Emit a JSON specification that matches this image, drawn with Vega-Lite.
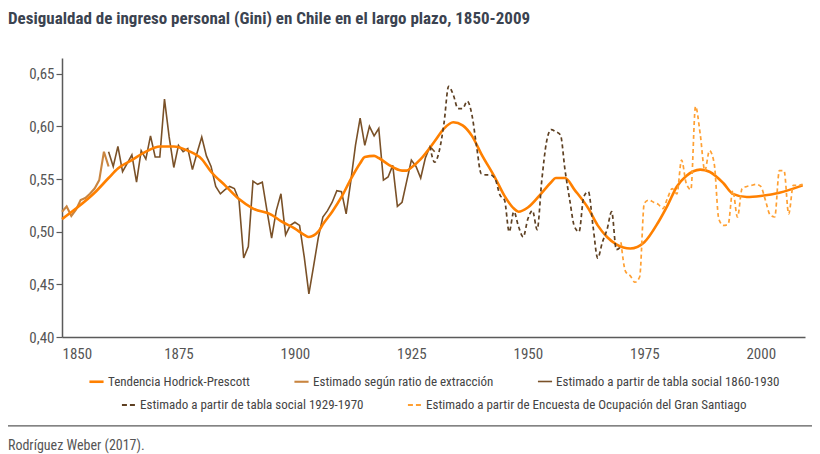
{
  "$schema": "https://vega.github.io/schema/vega-lite/v6.json",
  "width": 743,
  "height": 279,
  "autosize": "none",
  "padding": {"left": 62, "top": 58, "right": 15, "bottom": 117},
  "title": {
    "text": "Desigualdad de ingreso personal (Gini) en Chile en el largo plazo, 1850-2009",
    "anchor": "start",
    "frame": "group",
    "dx": -54,
    "offset": 30,
    "fontSize": 17,
    "fontWeight": "bold",
    "color": "#3b4350"
  },
  "datasets": {
    "hp": [
      {"anio": 1850, "gini": 0.512, "serie": "Tendencia Hodrick-Prescott"},
      {"anio": 1853, "gini": 0.522, "serie": "Tendencia Hodrick-Prescott"},
      {"anio": 1857, "gini": 0.537, "serie": "Tendencia Hodrick-Prescott"},
      {"anio": 1860, "gini": 0.551, "serie": "Tendencia Hodrick-Prescott"},
      {"anio": 1862, "gini": 0.560, "serie": "Tendencia Hodrick-Prescott"},
      {"anio": 1865, "gini": 0.568, "serie": "Tendencia Hodrick-Prescott"},
      {"anio": 1868, "gini": 0.576, "serie": "Tendencia Hodrick-Prescott"},
      {"anio": 1871, "gini": 0.581, "serie": "Tendencia Hodrick-Prescott"},
      {"anio": 1874, "gini": 0.581, "serie": "Tendencia Hodrick-Prescott"},
      {"anio": 1877, "gini": 0.577, "serie": "Tendencia Hodrick-Prescott"},
      {"anio": 1880, "gini": 0.569, "serie": "Tendencia Hodrick-Prescott"},
      {"anio": 1882, "gini": 0.557, "serie": "Tendencia Hodrick-Prescott"},
      {"anio": 1885, "gini": 0.544, "serie": "Tendencia Hodrick-Prescott"},
      {"anio": 1888, "gini": 0.531, "serie": "Tendencia Hodrick-Prescott"},
      {"anio": 1891, "gini": 0.522, "serie": "Tendencia Hodrick-Prescott"},
      {"anio": 1895, "gini": 0.516, "serie": "Tendencia Hodrick-Prescott"},
      {"anio": 1897, "gini": 0.510, "serie": "Tendencia Hodrick-Prescott"},
      {"anio": 1900, "gini": 0.503, "serie": "Tendencia Hodrick-Prescott"},
      {"anio": 1902, "gini": 0.497, "serie": "Tendencia Hodrick-Prescott"},
      {"anio": 1903, "gini": 0.495, "serie": "Tendencia Hodrick-Prescott"},
      {"anio": 1905, "gini": 0.500, "serie": "Tendencia Hodrick-Prescott"},
      {"anio": 1906, "gini": 0.507, "serie": "Tendencia Hodrick-Prescott"},
      {"anio": 1908, "gini": 0.519, "serie": "Tendencia Hodrick-Prescott"},
      {"anio": 1910, "gini": 0.533, "serie": "Tendencia Hodrick-Prescott"},
      {"anio": 1912, "gini": 0.550, "serie": "Tendencia Hodrick-Prescott"},
      {"anio": 1914, "gini": 0.565, "serie": "Tendencia Hodrick-Prescott"},
      {"anio": 1915, "gini": 0.571, "serie": "Tendencia Hodrick-Prescott"},
      {"anio": 1917, "gini": 0.572, "serie": "Tendencia Hodrick-Prescott"},
      {"anio": 1918, "gini": 0.570, "serie": "Tendencia Hodrick-Prescott"},
      {"anio": 1920, "gini": 0.564, "serie": "Tendencia Hodrick-Prescott"},
      {"anio": 1923, "gini": 0.558, "serie": "Tendencia Hodrick-Prescott"},
      {"anio": 1924, "gini": 0.558, "serie": "Tendencia Hodrick-Prescott"},
      {"anio": 1925, "gini": 0.561, "serie": "Tendencia Hodrick-Prescott"},
      {"anio": 1927, "gini": 0.569, "serie": "Tendencia Hodrick-Prescott"},
      {"anio": 1930, "gini": 0.586, "serie": "Tendencia Hodrick-Prescott"},
      {"anio": 1932, "gini": 0.598, "serie": "Tendencia Hodrick-Prescott"},
      {"anio": 1934, "gini": 0.604, "serie": "Tendencia Hodrick-Prescott"},
      {"anio": 1936, "gini": 0.601, "serie": "Tendencia Hodrick-Prescott"},
      {"anio": 1938, "gini": 0.591, "serie": "Tendencia Hodrick-Prescott"},
      {"anio": 1940, "gini": 0.574, "serie": "Tendencia Hodrick-Prescott"},
      {"anio": 1943, "gini": 0.551, "serie": "Tendencia Hodrick-Prescott"},
      {"anio": 1945, "gini": 0.534, "serie": "Tendencia Hodrick-Prescott"},
      {"anio": 1947, "gini": 0.522, "serie": "Tendencia Hodrick-Prescott"},
      {"anio": 1948, "gini": 0.519, "serie": "Tendencia Hodrick-Prescott"},
      {"anio": 1950, "gini": 0.523, "serie": "Tendencia Hodrick-Prescott"},
      {"anio": 1953, "gini": 0.537, "serie": "Tendencia Hodrick-Prescott"},
      {"anio": 1955, "gini": 0.547, "serie": "Tendencia Hodrick-Prescott"},
      {"anio": 1956, "gini": 0.551, "serie": "Tendencia Hodrick-Prescott"},
      {"anio": 1958, "gini": 0.551, "serie": "Tendencia Hodrick-Prescott"},
      {"anio": 1960, "gini": 0.540, "serie": "Tendencia Hodrick-Prescott"},
      {"anio": 1963, "gini": 0.522, "serie": "Tendencia Hodrick-Prescott"},
      {"anio": 1965, "gini": 0.506, "serie": "Tendencia Hodrick-Prescott"},
      {"anio": 1967, "gini": 0.495, "serie": "Tendencia Hodrick-Prescott"},
      {"anio": 1969, "gini": 0.488, "serie": "Tendencia Hodrick-Prescott"},
      {"anio": 1972, "gini": 0.484, "serie": "Tendencia Hodrick-Prescott"},
      {"anio": 1975, "gini": 0.490, "serie": "Tendencia Hodrick-Prescott"},
      {"anio": 1978, "gini": 0.509, "serie": "Tendencia Hodrick-Prescott"},
      {"anio": 1980, "gini": 0.525, "serie": "Tendencia Hodrick-Prescott"},
      {"anio": 1982, "gini": 0.543, "serie": "Tendencia Hodrick-Prescott"},
      {"anio": 1984, "gini": 0.553, "serie": "Tendencia Hodrick-Prescott"},
      {"anio": 1987, "gini": 0.559, "serie": "Tendencia Hodrick-Prescott"},
      {"anio": 1989, "gini": 0.557, "serie": "Tendencia Hodrick-Prescott"},
      {"anio": 1992, "gini": 0.546, "serie": "Tendencia Hodrick-Prescott"},
      {"anio": 1994, "gini": 0.536, "serie": "Tendencia Hodrick-Prescott"},
      {"anio": 1997, "gini": 0.533, "serie": "Tendencia Hodrick-Prescott"},
      {"anio": 2000, "gini": 0.534, "serie": "Tendencia Hodrick-Prescott"},
      {"anio": 2004, "gini": 0.537, "serie": "Tendencia Hodrick-Prescott"},
      {"anio": 2009, "gini": 0.544, "serie": "Tendencia Hodrick-Prescott"}
    ],
    "brutas": [
      {"anio": 1850, "gini": 0.519, "serie": "Estimado según ratio de extracción"},
      {"anio": 1851, "gini": 0.524, "serie": "Estimado según ratio de extracción"},
      {"anio": 1852, "gini": 0.515, "serie": "Estimado según ratio de extracción"},
      {"anio": 1853, "gini": 0.521, "serie": "Estimado según ratio de extracción"},
      {"anio": 1854, "gini": 0.530, "serie": "Estimado según ratio de extracción"},
      {"anio": 1855, "gini": 0.532, "serie": "Estimado según ratio de extracción"},
      {"anio": 1856, "gini": 0.536, "serie": "Estimado según ratio de extracción"},
      {"anio": 1857, "gini": 0.541, "serie": "Estimado según ratio de extracción"},
      {"anio": 1858, "gini": 0.549, "serie": "Estimado según ratio de extracción"},
      {"anio": 1859, "gini": 0.576, "serie": "Estimado según ratio de extracción"},
      {"anio": 1860, "gini": 0.562, "serie": "Estimado según ratio de extracción"},
      {"anio": 1860, "gini": 0.576, "serie": "Estimado a partir de tabla social 1860-1930"},
      {"anio": 1861, "gini": 0.562, "serie": "Estimado a partir de tabla social 1860-1930"},
      {"anio": 1862, "gini": 0.581, "serie": "Estimado a partir de tabla social 1860-1930"},
      {"anio": 1863, "gini": 0.557, "serie": "Estimado a partir de tabla social 1860-1930"},
      {"anio": 1864, "gini": 0.565, "serie": "Estimado a partir de tabla social 1860-1930"},
      {"anio": 1865, "gini": 0.573, "serie": "Estimado a partir de tabla social 1860-1930"},
      {"anio": 1866, "gini": 0.547, "serie": "Estimado a partir de tabla social 1860-1930"},
      {"anio": 1867, "gini": 0.577, "serie": "Estimado a partir de tabla social 1860-1930"},
      {"anio": 1868, "gini": 0.569, "serie": "Estimado a partir de tabla social 1860-1930"},
      {"anio": 1869, "gini": 0.591, "serie": "Estimado a partir de tabla social 1860-1930"},
      {"anio": 1870, "gini": 0.571, "serie": "Estimado a partir de tabla social 1860-1930"},
      {"anio": 1871, "gini": 0.571, "serie": "Estimado a partir de tabla social 1860-1930"},
      {"anio": 1872, "gini": 0.626, "serie": "Estimado a partir de tabla social 1860-1930"},
      {"anio": 1873, "gini": 0.590, "serie": "Estimado a partir de tabla social 1860-1930"},
      {"anio": 1874, "gini": 0.561, "serie": "Estimado a partir de tabla social 1860-1930"},
      {"anio": 1875, "gini": 0.582, "serie": "Estimado a partir de tabla social 1860-1930"},
      {"anio": 1876, "gini": 0.576, "serie": "Estimado a partir de tabla social 1860-1930"},
      {"anio": 1877, "gini": 0.579, "serie": "Estimado a partir de tabla social 1860-1930"},
      {"anio": 1878, "gini": 0.559, "serie": "Estimado a partir de tabla social 1860-1930"},
      {"anio": 1879, "gini": 0.575, "serie": "Estimado a partir de tabla social 1860-1930"},
      {"anio": 1880, "gini": 0.590, "serie": "Estimado a partir de tabla social 1860-1930"},
      {"anio": 1881, "gini": 0.572, "serie": "Estimado a partir de tabla social 1860-1930"},
      {"anio": 1882, "gini": 0.562, "serie": "Estimado a partir de tabla social 1860-1930"},
      {"anio": 1883, "gini": 0.543, "serie": "Estimado a partir de tabla social 1860-1930"},
      {"anio": 1884, "gini": 0.536, "serie": "Estimado a partir de tabla social 1860-1930"},
      {"anio": 1885, "gini": 0.540, "serie": "Estimado a partir de tabla social 1860-1930"},
      {"anio": 1886, "gini": 0.543, "serie": "Estimado a partir de tabla social 1860-1930"},
      {"anio": 1887, "gini": 0.541, "serie": "Estimado a partir de tabla social 1860-1930"},
      {"anio": 1888, "gini": 0.530, "serie": "Estimado a partir de tabla social 1860-1930"},
      {"anio": 1889, "gini": 0.475, "serie": "Estimado a partir de tabla social 1860-1930"},
      {"anio": 1890, "gini": 0.486, "serie": "Estimado a partir de tabla social 1860-1930"},
      {"anio": 1891, "gini": 0.548, "serie": "Estimado a partir de tabla social 1860-1930"},
      {"anio": 1892, "gini": 0.545, "serie": "Estimado a partir de tabla social 1860-1930"},
      {"anio": 1893, "gini": 0.547, "serie": "Estimado a partir de tabla social 1860-1930"},
      {"anio": 1894, "gini": 0.520, "serie": "Estimado a partir de tabla social 1860-1930"},
      {"anio": 1895, "gini": 0.494, "serie": "Estimado a partir de tabla social 1860-1930"},
      {"anio": 1896, "gini": 0.520, "serie": "Estimado a partir de tabla social 1860-1930"},
      {"anio": 1897, "gini": 0.536, "serie": "Estimado a partir de tabla social 1860-1930"},
      {"anio": 1898, "gini": 0.497, "serie": "Estimado a partir de tabla social 1860-1930"},
      {"anio": 1899, "gini": 0.506, "serie": "Estimado a partir de tabla social 1860-1930"},
      {"anio": 1900, "gini": 0.509, "serie": "Estimado a partir de tabla social 1860-1930"},
      {"anio": 1901, "gini": 0.506, "serie": "Estimado a partir de tabla social 1860-1930"},
      {"anio": 1902, "gini": 0.476, "serie": "Estimado a partir de tabla social 1860-1930"},
      {"anio": 1903, "gini": 0.441, "serie": "Estimado a partir de tabla social 1860-1930"},
      {"anio": 1904, "gini": 0.467, "serie": "Estimado a partir de tabla social 1860-1930"},
      {"anio": 1905, "gini": 0.494, "serie": "Estimado a partir de tabla social 1860-1930"},
      {"anio": 1906, "gini": 0.514, "serie": "Estimado a partir de tabla social 1860-1930"},
      {"anio": 1907, "gini": 0.520, "serie": "Estimado a partir de tabla social 1860-1930"},
      {"anio": 1908, "gini": 0.528, "serie": "Estimado a partir de tabla social 1860-1930"},
      {"anio": 1909, "gini": 0.539, "serie": "Estimado a partir de tabla social 1860-1930"},
      {"anio": 1910, "gini": 0.538, "serie": "Estimado a partir de tabla social 1860-1930"},
      {"anio": 1911, "gini": 0.517, "serie": "Estimado a partir de tabla social 1860-1930"},
      {"anio": 1912, "gini": 0.548, "serie": "Estimado a partir de tabla social 1860-1930"},
      {"anio": 1913, "gini": 0.582, "serie": "Estimado a partir de tabla social 1860-1930"},
      {"anio": 1914, "gini": 0.608, "serie": "Estimado a partir de tabla social 1860-1930"},
      {"anio": 1915, "gini": 0.582, "serie": "Estimado a partir de tabla social 1860-1930"},
      {"anio": 1916, "gini": 0.600, "serie": "Estimado a partir de tabla social 1860-1930"},
      {"anio": 1917, "gini": 0.591, "serie": "Estimado a partir de tabla social 1860-1930"},
      {"anio": 1918, "gini": 0.598, "serie": "Estimado a partir de tabla social 1860-1930"},
      {"anio": 1919, "gini": 0.549, "serie": "Estimado a partir de tabla social 1860-1930"},
      {"anio": 1920, "gini": 0.552, "serie": "Estimado a partir de tabla social 1860-1930"},
      {"anio": 1921, "gini": 0.563, "serie": "Estimado a partir de tabla social 1860-1930"},
      {"anio": 1922, "gini": 0.524, "serie": "Estimado a partir de tabla social 1860-1930"},
      {"anio": 1923, "gini": 0.528, "serie": "Estimado a partir de tabla social 1860-1930"},
      {"anio": 1924, "gini": 0.548, "serie": "Estimado a partir de tabla social 1860-1930"},
      {"anio": 1925, "gini": 0.568, "serie": "Estimado a partir de tabla social 1860-1930"},
      {"anio": 1926, "gini": 0.562, "serie": "Estimado a partir de tabla social 1860-1930"},
      {"anio": 1927, "gini": 0.551, "serie": "Estimado a partir de tabla social 1860-1930"},
      {"anio": 1928, "gini": 0.570, "serie": "Estimado a partir de tabla social 1860-1930"},
      {"anio": 1929, "gini": 0.581, "serie": "Estimado a partir de tabla social 1860-1930"},
      {"anio": 1930, "gini": 0.576, "serie": "Estimado a partir de tabla social 1860-1930"}
    ],
    "discontinuas": [
      {"anio": 1929, "gini": 0.581, "serie": "Estimado a partir de tabla social 1929-1970"},
      {"anio": 1930, "gini": 0.566, "serie": "Estimado a partir de tabla social 1929-1970"},
      {"anio": 1931, "gini": 0.577, "serie": "Estimado a partir de tabla social 1929-1970"},
      {"anio": 1932, "gini": 0.603, "serie": "Estimado a partir de tabla social 1929-1970"},
      {"anio": 1933, "gini": 0.638, "serie": "Estimado a partir de tabla social 1929-1970"},
      {"anio": 1934, "gini": 0.630, "serie": "Estimado a partir de tabla social 1929-1970"},
      {"anio": 1935, "gini": 0.617, "serie": "Estimado a partir de tabla social 1929-1970"},
      {"anio": 1936, "gini": 0.617, "serie": "Estimado a partir de tabla social 1929-1970"},
      {"anio": 1937, "gini": 0.624, "serie": "Estimado a partir de tabla social 1929-1970"},
      {"anio": 1938, "gini": 0.611, "serie": "Estimado a partir de tabla social 1929-1970"},
      {"anio": 1939, "gini": 0.581, "serie": "Estimado a partir de tabla social 1929-1970"},
      {"anio": 1940, "gini": 0.555, "serie": "Estimado a partir de tabla social 1929-1970"},
      {"anio": 1941, "gini": 0.554, "serie": "Estimado a partir de tabla social 1929-1970"},
      {"anio": 1942, "gini": 0.554, "serie": "Estimado a partir de tabla social 1929-1970"},
      {"anio": 1943, "gini": 0.550, "serie": "Estimado a partir de tabla social 1929-1970"},
      {"anio": 1944, "gini": 0.535, "serie": "Estimado a partir de tabla social 1929-1970"},
      {"anio": 1945, "gini": 0.530, "serie": "Estimado a partir de tabla social 1929-1970"},
      {"anio": 1946, "gini": 0.500, "serie": "Estimado a partir de tabla social 1929-1970"},
      {"anio": 1947, "gini": 0.519, "serie": "Estimado a partir de tabla social 1929-1970"},
      {"anio": 1948, "gini": 0.505, "serie": "Estimado a partir de tabla social 1929-1970"},
      {"anio": 1949, "gini": 0.495, "serie": "Estimado a partir de tabla social 1929-1970"},
      {"anio": 1950, "gini": 0.512, "serie": "Estimado a partir de tabla social 1929-1970"},
      {"anio": 1951, "gini": 0.520, "serie": "Estimado a partir de tabla social 1929-1970"},
      {"anio": 1952, "gini": 0.502, "serie": "Estimado a partir de tabla social 1929-1970"},
      {"anio": 1953, "gini": 0.549, "serie": "Estimado a partir de tabla social 1929-1970"},
      {"anio": 1954, "gini": 0.585, "serie": "Estimado a partir de tabla social 1929-1970"},
      {"anio": 1955, "gini": 0.597, "serie": "Estimado a partir de tabla social 1929-1970"},
      {"anio": 1956, "gini": 0.595, "serie": "Estimado a partir de tabla social 1929-1970"},
      {"anio": 1957, "gini": 0.592, "serie": "Estimado a partir de tabla social 1929-1970"},
      {"anio": 1958, "gini": 0.558, "serie": "Estimado a partir de tabla social 1929-1970"},
      {"anio": 1959, "gini": 0.530, "serie": "Estimado a partir de tabla social 1929-1970"},
      {"anio": 1960, "gini": 0.505, "serie": "Estimado a partir de tabla social 1929-1970"},
      {"anio": 1961, "gini": 0.500, "serie": "Estimado a partir de tabla social 1929-1970"},
      {"anio": 1962, "gini": 0.533, "serie": "Estimado a partir de tabla social 1929-1970"},
      {"anio": 1963, "gini": 0.538, "serie": "Estimado a partir de tabla social 1929-1970"},
      {"anio": 1964, "gini": 0.505, "serie": "Estimado a partir de tabla social 1929-1970"},
      {"anio": 1965, "gini": 0.475, "serie": "Estimado a partir de tabla social 1929-1970"},
      {"anio": 1966, "gini": 0.490, "serie": "Estimado a partir de tabla social 1929-1970"},
      {"anio": 1967, "gini": 0.502, "serie": "Estimado a partir de tabla social 1929-1970"},
      {"anio": 1968, "gini": 0.519, "serie": "Estimado a partir de tabla social 1929-1970"},
      {"anio": 1969, "gini": 0.483, "serie": "Estimado a partir de tabla social 1929-1970"},
      {"anio": 1970, "gini": 0.486, "serie": "Estimado a partir de tabla social 1929-1970"},
      {"anio": 1970, "gini": 0.490, "serie": "Estimado a partir de Encuesta de Ocupación del Gran Santiago"},
      {"anio": 1971, "gini": 0.462, "serie": "Estimado a partir de Encuesta de Ocupación del Gran Santiago"},
      {"anio": 1972, "gini": 0.458, "serie": "Estimado a partir de Encuesta de Ocupación del Gran Santiago"},
      {"anio": 1973, "gini": 0.452, "serie": "Estimado a partir de Encuesta de Ocupación del Gran Santiago"},
      {"anio": 1974, "gini": 0.457, "serie": "Estimado a partir de Encuesta de Ocupación del Gran Santiago"},
      {"anio": 1975, "gini": 0.527, "serie": "Estimado a partir de Encuesta de Ocupación del Gran Santiago"},
      {"anio": 1976, "gini": 0.530, "serie": "Estimado a partir de Encuesta de Ocupación del Gran Santiago"},
      {"anio": 1977, "gini": 0.528, "serie": "Estimado a partir de Encuesta de Ocupación del Gran Santiago"},
      {"anio": 1978, "gini": 0.526, "serie": "Estimado a partir de Encuesta de Ocupación del Gran Santiago"},
      {"anio": 1979, "gini": 0.522, "serie": "Estimado a partir de Encuesta de Ocupación del Gran Santiago"},
      {"anio": 1980, "gini": 0.532, "serie": "Estimado a partir de Encuesta de Ocupación del Gran Santiago"},
      {"anio": 1981, "gini": 0.541, "serie": "Estimado a partir de Encuesta de Ocupación del Gran Santiago"},
      {"anio": 1982, "gini": 0.536, "serie": "Estimado a partir de Encuesta de Ocupación del Gran Santiago"},
      {"anio": 1983, "gini": 0.568, "serie": "Estimado a partir de Encuesta de Ocupación del Gran Santiago"},
      {"anio": 1984, "gini": 0.546, "serie": "Estimado a partir de Encuesta de Ocupación del Gran Santiago"},
      {"anio": 1985, "gini": 0.540, "serie": "Estimado a partir de Encuesta de Ocupación del Gran Santiago"},
      {"anio": 1986, "gini": 0.619, "serie": "Estimado a partir de Encuesta de Ocupación del Gran Santiago"},
      {"anio": 1987, "gini": 0.593, "serie": "Estimado a partir de Encuesta de Ocupación del Gran Santiago"},
      {"anio": 1988, "gini": 0.558, "serie": "Estimado a partir de Encuesta de Ocupación del Gran Santiago"},
      {"anio": 1989, "gini": 0.577, "serie": "Estimado a partir de Encuesta de Ocupación del Gran Santiago"},
      {"anio": 1990, "gini": 0.565, "serie": "Estimado a partir de Encuesta de Ocupación del Gran Santiago"},
      {"anio": 1991, "gini": 0.512, "serie": "Estimado a partir de Encuesta de Ocupación del Gran Santiago"},
      {"anio": 1992, "gini": 0.506, "serie": "Estimado a partir de Encuesta de Ocupación del Gran Santiago"},
      {"anio": 1993, "gini": 0.507, "serie": "Estimado a partir de Encuesta de Ocupación del Gran Santiago"},
      {"anio": 1994, "gini": 0.539, "serie": "Estimado a partir de Encuesta de Ocupación del Gran Santiago"},
      {"anio": 1995, "gini": 0.514, "serie": "Estimado a partir de Encuesta de Ocupación del Gran Santiago"},
      {"anio": 1996, "gini": 0.541, "serie": "Estimado a partir de Encuesta de Ocupación del Gran Santiago"},
      {"anio": 1997, "gini": 0.543, "serie": "Estimado a partir de Encuesta de Ocupación del Gran Santiago"},
      {"anio": 1998, "gini": 0.544, "serie": "Estimado a partir de Encuesta de Ocupación del Gran Santiago"},
      {"anio": 1999, "gini": 0.545, "serie": "Estimado a partir de Encuesta de Ocupación del Gran Santiago"},
      {"anio": 2000, "gini": 0.543, "serie": "Estimado a partir de Encuesta de Ocupación del Gran Santiago"},
      {"anio": 2001, "gini": 0.530, "serie": "Estimado a partir de Encuesta de Ocupación del Gran Santiago"},
      {"anio": 2002, "gini": 0.516, "serie": "Estimado a partir de Encuesta de Ocupación del Gran Santiago"},
      {"anio": 2003, "gini": 0.514, "serie": "Estimado a partir de Encuesta de Ocupación del Gran Santiago"},
      {"anio": 2004, "gini": 0.558, "serie": "Estimado a partir de Encuesta de Ocupación del Gran Santiago"},
      {"anio": 2005, "gini": 0.558, "serie": "Estimado a partir de Encuesta de Ocupación del Gran Santiago"},
      {"anio": 2006, "gini": 0.517, "serie": "Estimado a partir de Encuesta de Ocupación del Gran Santiago"},
      {"anio": 2007, "gini": 0.544, "serie": "Estimado a partir de Encuesta de Ocupación del Gran Santiago"},
      {"anio": 2008, "gini": 0.544, "serie": "Estimado a partir de Encuesta de Ocupación del Gran Santiago"},
      {"anio": 2009, "gini": 0.545, "serie": "Estimado a partir de Encuesta de Ocupación del Gran Santiago"}
    ],
    "fuente": [{"texto": "Rodríguez Weber (2017)."}]
  },
  "layer": [
    {
      "layer": [
        {
          "data": {"name": "brutas"},
          "mark": {"type": "line", "interpolate": "linear"},
          "encoding": {
            "x": {"field": "anio", "type": "quantitative", "scale": {"domain": [1850, 2009.5], "zero": false, "nice": false}, "axis": {"values": [1850, 1875, 1900, 1925, 1950, 1975, 2000], "format": "d", "title": null}},
            "y": {"field": "gini", "type": "quantitative", "scale": {"domain": [0.4, 0.665], "zero": false, "nice": false}, "axis": {"values": [0.4, 0.45, 0.5, 0.55, 0.6, 0.65], "labelExpr": "replace(format(datum.value, '.2f'), '.', ',')", "title": null}},
            "color": {"field": "serie", "type": "nominal", "scale": {"domain": ["Tendencia Hodrick-Prescott", "Estimado según ratio de extracción", "Estimado a partir de tabla social 1860-1930"], "range": ["#ff8000", "#c98540", "#7a5128"]}, "legend": {"title": null}},
            "strokeWidth": {"field": "serie", "type": "nominal", "scale": {"domain": ["Tendencia Hodrick-Prescott", "Estimado según ratio de extracción", "Estimado a partir de tabla social 1860-1930"], "range": [2.6, 1.6, 1.8]}, "legend": {"title": null}}
          }
        },
        {
          "data": {"name": "hp"},
          "mark": {"type": "line", "interpolate": "monotone"},
          "encoding": {
            "x": {"field": "anio", "type": "quantitative", "scale": {"domain": [1850, 2009.5], "zero": false, "nice": false}, "axis": {"values": [1850, 1875, 1900, 1925, 1950, 1975, 2000], "format": "d", "title": null}},
            "y": {"field": "gini", "type": "quantitative", "scale": {"domain": [0.4, 0.665], "zero": false, "nice": false}, "axis": {"values": [0.4, 0.45, 0.5, 0.55, 0.6, 0.65], "labelExpr": "replace(format(datum.value, '.2f'), '.', ',')", "title": null}},
            "color": {"field": "serie", "type": "nominal", "scale": {"domain": ["Tendencia Hodrick-Prescott", "Estimado según ratio de extracción", "Estimado a partir de tabla social 1860-1930"], "range": ["#ff8000", "#c98540", "#7a5128"]}, "legend": {"title": null}},
            "strokeWidth": {"field": "serie", "type": "nominal", "scale": {"domain": ["Tendencia Hodrick-Prescott", "Estimado según ratio de extracción", "Estimado a partir de tabla social 1860-1930"], "range": [2.6, 1.6, 1.8]}, "legend": {"title": null}}
          }
        }
      ]
    },
    {
      "data": {"name": "discontinuas"},
      "mark": {"type": "line", "interpolate": "monotone", "strokeDash": [4, 3], "strokeWidth": 1.7},
      "encoding": {
        "x": {"field": "anio", "type": "quantitative", "scale": {"domain": [1850, 2009.5], "zero": false, "nice": false}, "axis": {"values": [1850, 1875, 1900, 1925, 1950, 1975, 2000], "format": "d", "title": null}},
        "y": {"field": "gini", "type": "quantitative", "scale": {"domain": [0.4, 0.665], "zero": false, "nice": false}, "axis": {"values": [0.4, 0.45, 0.5, 0.55, 0.6, 0.65], "labelExpr": "replace(format(datum.value, '.2f'), '.', ',')", "title": null}},
        "color": {"field": "serie", "type": "nominal", "scale": {"domain": ["Estimado a partir de tabla social 1929-1970", "Estimado a partir de Encuesta de Ocupación del Gran Santiago"], "range": ["#5e4022", "#ffa033"]}, "legend": {"title": null, "symbolDash": [5, 3], "symbolStrokeWidth": 1.8}}
      }
    },
    {
      "data": {"name": "fuente"},
      "mark": {"type": "rule", "color": "#5a5a5a", "strokeWidth": 1.3},
      "encoding": {
        "x": {"datum": 1838.4, "type": "quantitative", "axis": {"values": [1850, 1875, 1900, 1925, 1950, 1975, 2000], "format": "d", "title": null}},
        "x2": {"datum": 2011},
        "y": {"datum": 0.3155, "type": "quantitative", "axis": {"values": [0.4, 0.45, 0.5, 0.55, 0.6, 0.65], "labelExpr": "replace(format(datum.value, '.2f'), '.', ',')", "title": null}}
      }
    },
    {
      "data": {"name": "fuente"},
      "mark": {"type": "text", "align": "left", "baseline": "middle", "fontSize": 14, "color": "#555555"},
      "encoding": {
        "x": {"datum": 1838.4, "type": "quantitative", "axis": {"values": [1850, 1875, 1900, 1925, 1950, 1975, 2000], "format": "d", "title": null}},
        "y": {"datum": 0.2965, "type": "quantitative", "axis": {"values": [0.4, 0.45, 0.5, 0.55, 0.6, 0.65], "labelExpr": "replace(format(datum.value, '.2f'), '.', ',')", "title": null}},
        "text": {"field": "texto"}
      }
    }
  ],
  "resolve": {"scale": {"color": "independent", "strokeWidth": "independent"}},
  "config": {
    "font": "Liberation Sans Narrow, Roboto Condensed, DejaVu Sans Condensed, Arial Narrow, sans-serif",
    "view": {"stroke": null},
    "axisX": {"grid": false, "ticks": false, "domainColor": "#5a5a5a", "domainWidth": 1.5, "labelColor": "#555555", "labelFontSize": 15, "labelPadding": 9, "labelFlush": true},
    "axisY": {"grid": false, "ticks": true, "tickSize": 6, "tickColor": "#5a5a5a", "tickWidth": 1.2, "domainColor": "#5a5a5a", "domainWidth": 1.5, "labelColor": "#555555", "labelFontSize": 15, "labelPadding": 2},
    "legend": {
      "orient": "bottom",
      "direction": "horizontal",
      "symbolType": "stroke",
      "symbolSize": 200,
      "labelFontSize": 13,
      "labelColor": "#444444",
      "labelLimit": 400,
      "labelOffset": 3,
      "columnPadding": 40,
      "offset": 12,
      "layout": {"bottom": {"anchor": "middle", "direction": "vertical", "center": true, "margin": 8}}
    }
  }
}
